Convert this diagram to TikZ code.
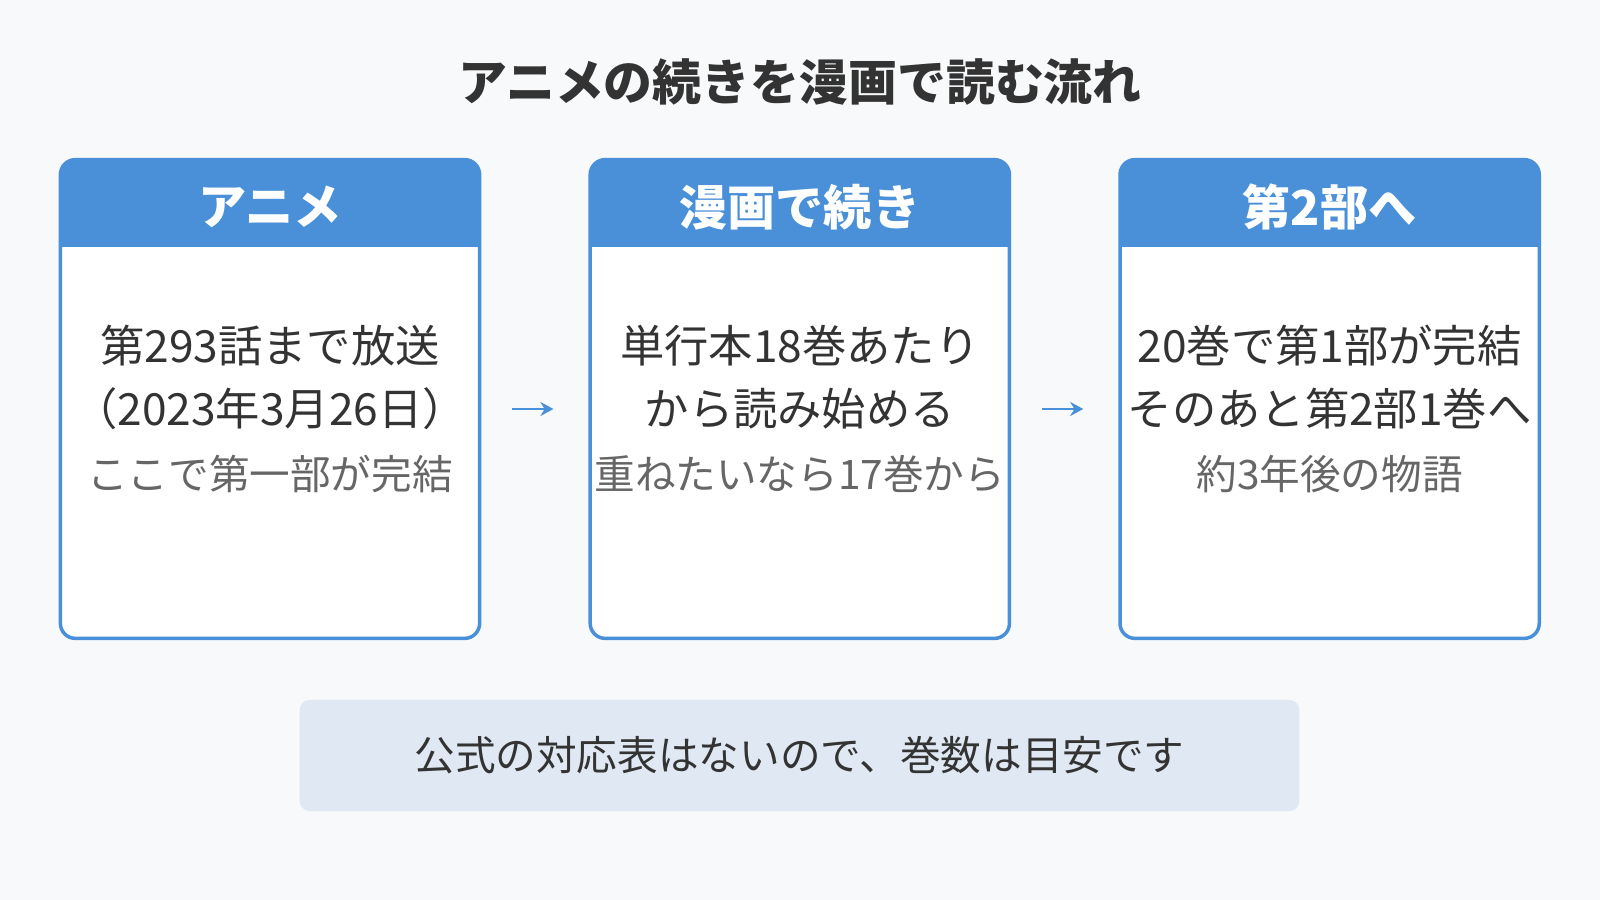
\documentclass[tikz,border=0pt]{standalone}
\usepackage{fontspec}
\setmainfont{Noto Sans CJK JP}
\usetikzlibrary{positioning, arrows.meta}

\definecolor{headblue}{HTML}{4A90D9}
\definecolor{pagebg}{HTML}{F7F9FB}
\definecolor{notebg}{HTML}{DFE8F3}
\definecolor{darktext}{HTML}{333333}
\definecolor{graytext}{HTML}{666666}

\begin{document}
\begin{tikzpicture}[
    x=0.01cm, y=-0.01cm,
    title/.style={font=\fontsize{13.9}{16}\selectfont\bfseries, text=darktext},
    card/.style={rectangle, rounded corners=0.15cm, draw=headblue, line width=0.035cm, fill=white,
        minimum width=4.19cm, minimum height=4.785cm, inner sep=0pt,
        path picture={\fill[headblue, sharp corners] (path picture bounding box.north west) rectangle ([yshift=-0.87cm]path picture bounding box.north east);}},
    head/.style={font=\fontsize{13.7}{16}\selectfont\bfseries, text=white},
    body/.style={font=\fontsize{12.6}{17.9}\selectfont, text=darktext, align=center},
    sub/.style={font=\fontsize{11.55}{14}\selectfont, text=graytext},
    note/.style={rectangle, rounded corners=0.1cm, fill=notebg, minimum width=9.99cm, minimum height=1.11cm,
        font=\fontsize{11.55}{14}\selectfont, text=darktext},
    arrow/.style={-{Stealth[length=0.13cm, width=0.14cm]}, draw=headblue, line width=0.025cm,
        shorten <=0.31cm, shorten >=0.35cm}
]

% Background
\fill[pagebg] (0,0) rectangle (1600,900);
\useasboundingbox (0,0) rectangle (1600,900);

% Title
\node[title] (heading) at (800, 82) {アニメの続きを漫画で読む流れ};

% Cards
\node[card] (anime) at (270, 399) {};
\node[card, right=1.07cm of anime] (manga) {};
\node[card, right=1.07cm of manga] (part2) {};

% Card headers
\node[head] (anime-head) at ([yshift=-0.49cm]anime.north) {アニメ};
\node[head] (manga-head) at ([yshift=-0.49cm]manga.north) {漫画で続き};
\node[head] (part2-head) at ([yshift=-0.49cm]part2.north) {第2部へ};

% Card texts
\node[body] (anime-text) at ([yshift=0.22cm]anime.center) {第293話まで放送\\（2023年3月26日）};
\node[sub] (anime-sub) at ([yshift=-0.75cm]anime.center) {ここで第一部が完結};

\node[body] (manga-text) at ([yshift=0.22cm]manga.center) {単行本18巻あたり\\から読み始める};
\node[sub] (manga-sub) at ([yshift=-0.75cm]manga.center) {重ねたいなら17巻から};

\node[body] (part2-text) at ([yshift=0.22cm]part2.center) {20巻で第1部が完結\\そのあと第2部1巻へ};
\node[sub] (part2-sub) at ([yshift=-0.75cm]part2.center) {約3年後の物語};

% Arrows
\draw[arrow] ([yshift=-0.1cm]anime.east) -- ([yshift=-0.1cm]manga.west);
\draw[arrow] ([yshift=-0.1cm]manga.east) -- ([yshift=-0.1cm]part2.west);

% Note
\node[note] (memo) at (799.5, 755.5) {公式の対応表はないので、巻数は目安です};

\end{tikzpicture}
\end{document}
